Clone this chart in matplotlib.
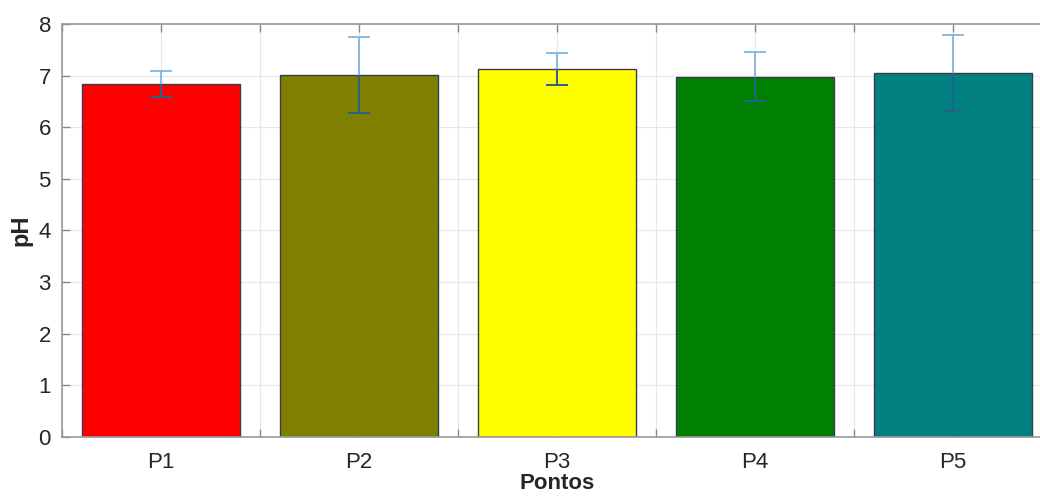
import numpy as np
from matplotlib import pyplot as plt

plt.rcParams['font.family'] = ['Liberation Sans', 'DejaVu Sans']

pontos = ['P1', 'P2', 'P3', 'P4', 'P5']
ph_mean = [6.83, 7.01, 7.12, 6.98, 7.05]
ph_err = [0.25, 0.73, 0.31, 0.47, 0.74]
bar_colors = ['#ff0000', '#808000', '#ffff00', '#008000', '#008080']

fig = plt.figure(figsize=(10.4, 4.98), dpi=100)
# axes runs past the right edge like the original screenshot
ax = fig.add_axes([62 / 1040, 61 / 498, 990 / 1040, 413 / 498])

x = np.arange(1, len(pontos) + 1)
mean = np.array(ph_mean)
err = np.array(ph_err)
ax.bar(x, mean, width=0.8, color=bar_colors, edgecolor='#3a3a55', linewidth=1.0, zorder=2)
# full bar in light blue, then the part over the bar looks darker
ax.errorbar(x, mean, yerr=err, fmt='none', ecolor='#7fb5de',
            elinewidth=1.3, capsize=8, capthick=1.3, zorder=3)
ax.vlines(x, mean - err, mean, color='#1f5a85', linewidth=1.3, zorder=4)
ax.plot(x, mean - err, linestyle='none', marker='_', markersize=16,
        markeredgewidth=1.3, color='#1f5a85', zorder=4)

ax.set_xlim(0.5, 5.5)
ax.set_ylim(0, 8)
ticks = np.arange(0.5, 5.51, 0.5)
ax.set_xticks(ticks)
ax.set_xticklabels(['' if v % 1 else pontos[int(v) - 1] for v in ticks])
ax.set_yticks(range(0, 9))

ax.grid(True, color='#e6e6e6', linewidth=0.8, zorder=0)
ax.set_axisbelow(True)
ax.tick_params(direction='in', length=6, width=1, color='#888888', labelsize=16,
               labelcolor='#262626', top=True, right=True)
ax.tick_params(axis='x', pad=11)
ax.tick_params(axis='y', pad=8)
for s in ax.spines.values():
    s.set_color('#999999')
    s.set_linewidth(1.2)

ax.set_xlabel('Pontos', fontsize=16, fontweight='bold', color='#262626', labelpad=0)
ax.set_ylabel('pH', fontsize=17, fontweight='bold', color='#262626', labelpad=4)

plt.savefig('out.png', dpi=100)
